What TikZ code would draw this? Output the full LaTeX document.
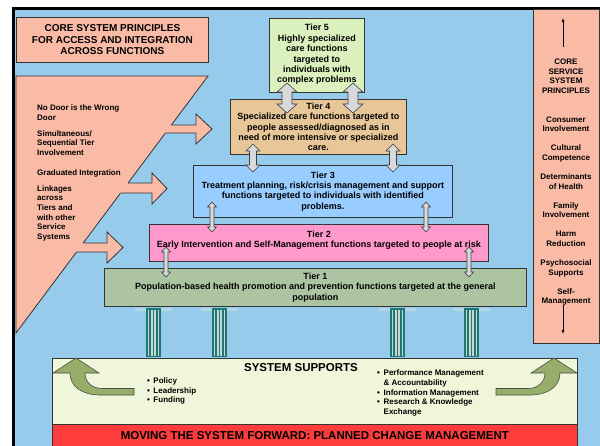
\documentclass[tikz,border=0pt]{standalone}
\usepackage{fontspec}
\setmainfont{Liberation Sans}
\usetikzlibrary{arrows.meta}

\definecolor{skyback}{RGB}{151,203,235}
\definecolor{salmon}{RGB}{249,187,166}
\definecolor{tierfive}{RGB}{218,241,190}
\definecolor{tierfour}{RGB}{231,198,152}
\definecolor{tierthree}{RGB}{153,204,255}
\definecolor{tiertwo}{RGB}{255,153,204}
\definecolor{tierone}{RGB}{173,196,163}
\definecolor{supportfill}{RGB}{240,246,217}
\definecolor{redbar}{RGB}{255,60,60}
\definecolor{leafgreen}{RGB}{151,174,106}
\definecolor{pillarteal}{RGB}{28,120,112}
\definecolor{pillarlight}{RGB}{200,216,214}
\definecolor{capitalblue}{RGB}{182,214,228}
\definecolor{linkgray}{RGB}{217,217,217}
\definecolor{edgegray}{RGB}{51,51,51}

\tikzset{
  panel/.style={draw=edgegray, line width=0.8pt},
  boxnode/.style={panel, anchor=north west, align=center, inner sep=0pt},
  tierfont/.style={font=\fontsize{9}{10.4}\selectfont\bfseries},
  smallfont/.style={font=\fontsize{8}{9.6}\selectfont\bfseries},
  bigfont/.style={font=\fontsize{11.5}{13}\selectfont\bfseries},
  linkstyle/.style={fill=linkgray, draw=black!75, line width=0.6pt},
  greenarrow/.style={fill=leafgreen, draw=black!70, line width=0.6pt},
  sidearrow/.style={fill=salmon},
  sideedge/.style={draw=edgegray, line width=0.8pt},
  listnode/.style={smallfont, anchor=north west, align=left, inner sep=0pt},
  pointer/.style={line width=0.6pt, -{Latex[length=4pt,width=3pt]}}
}

% vertical double block arrow: x, top tip, bottom tip, head half width, shaft half width, head length
\newcommand\tierlink[6]{%
  \draw[linkstyle] (#1,#2) -- (#1+#4,#2+#6) -- (#1+#5,#2+#6) -- (#1+#5,#3-#6)
    -- (#1+#4,#3-#6) -- (#1,#3) -- (#1-#4,#3-#6) -- (#1-#5,#3-#6)
    -- (#1-#5,#2+#6) -- (#1-#4,#2+#6) -- cycle;}

% block arrow leaving the slanted panel: shaft start x (top, bottom), shaft y (top, bottom),
% head back x, head y (top, bottom), tip x
\newcommand\panelarrow[8]{%
  \fill[sidearrow] (#1-3,#3) -- (#5,#3) -- (#5,#6) -- (#8,{(#6+#7)/2}) -- (#5,#7)
    -- (#5,#4) -- (#2-3,#4) -- cycle;
  \draw[sideedge] (#1,#3) -- (#5,#3) -- (#5,#6) -- (#8,{(#6+#7)/2}) -- (#5,#7)
    -- (#5,#4) -- (#2,#4);}

% fluted column standing on the supports
\newcommand\pillar[1]{%
  \fill[capitalblue] (#1-11,307.5) rectangle (#1+26,310.5);
  \fill[pillarteal] (#1,308) rectangle (#1+15,357);
  \foreach \s in {1.6,4.9,8.2,11.5}
    \fill[pillarlight] (#1+\s,309.5) rectangle (#1+\s+1.8,355.5);}

\begin{document}
\begin{tikzpicture}[x=1pt,y=-1pt]
\useasboundingbox (0,0) rectangle (600,445);
\clip (0,0) rectangle (600,445);

% frame and background
\draw[line width=3pt, fill=skyback] (13.5,8) rectangle (620,460);

% principles title
\node[boxnode, fill=salmon, minimum width=192pt, minimum height=45pt,
      font=\fontsize{10}{11.5}\selectfont\bfseries] (title) at (16,17)
  {CORE SYSTEM PRINCIPLES\\FOR ACCESS AND INTEGRATION\\ACROSS FUNCTIONS};

% slanted principles panel
\draw[panel, fill=salmon] (16,76) -- (208,76) -- (16,333) -- cycle;
\node[listnode] (p1) at (37,104.5) {No Door is the Wrong\\Door};
\node[listnode] (p2) at (37,130.3) {Simultaneous/\\Sequential Tier\\Involvement};
\node[listnode] (p3) at (37,169.3) {Graduated Integration};
\node[listnode] (p4) at (37,185.3) {Linkages\\across\\Tiers and\\with other\\Service\\Systems};

\panelarrow{171.4}{165.4}{125}{133}{196}{114}{144}{212}
\panelarrow{128.1}{120.6}{183}{193}{152}{173}{204}{167}
\panelarrow{83.2}{76.5}{243}{252}{107}{232}{263}{123}

% service principles column
\node[boxnode, fill=salmon, minimum width=66pt, minimum height=334pt] (corecol) at (533,9) {};
\node[smallfont, anchor=north, align=center, inner sep=0pt] (coretext) at (566,59)
  {CORE\\SERVICE\\SYSTEM\\PRINCIPLES\\[19pt]
   Consumer\\Involvement\\[9.5pt]
   Cultural\\Competence\\[9.5pt]
   Determinants\\of Health\\[9.5pt]
   Family\\Involvement\\[9.5pt]
   Harm\\Reduction\\[9.5pt]
   Psychosocial\\Supports\\[9.5pt]
   Self-\\Management};
\coordinate (upfrom) at (563,47);
\coordinate (upto) at (563,18);
\coordinate (downfrom) at (563,305);
\coordinate (downto) at (563,334);
\draw[pointer] (upfrom) -- (upto);
\draw[pointer] (downfrom) -- (downto);

% pillars
\pillar{146}
\pillar{212}
\pillar{390}
\pillar{464}

% system supports and planned change bar
\node[boxnode, fill=supportfill, minimum width=525pt, minimum height=66pt] (supports) at (52,358) {};
\node[boxnode, fill=redbar, minimum width=525pt, minimum height=22pt, bigfont] (forward) at (52,424)
  {MOVING THE SYSTEM FORWARD: PLANNED CHANGE MANAGEMENT};
\node[bigfont, inner sep=0pt] (suptitle) at (301,368) {SYSTEM SUPPORTS};
\node[listnode] (leftlist) at (146.8,377.5)
  {\makebox[6.5pt][l]{\textbullet}Policy\\
   \makebox[6.5pt][l]{\textbullet}Leadership\\
   \makebox[6.5pt][l]{\textbullet}Funding};
\node[listnode, font=\fontsize{8}{9.8}\selectfont\bfseries] (rightlist) at (377,369.5)
  {\makebox[6.5pt][l]{\textbullet}Performance Management\\
   \makebox[6.5pt]{}\& Accountability\\
   \makebox[6.5pt][l]{\textbullet}Information Management\\
   \makebox[6.5pt][l]{\textbullet}Research \& Knowledge\\
   \makebox[6.5pt]{}Exchange};

% curved upward arrows
\draw[greenarrow] (70,373) .. controls (70,387) and (83,395) .. (100,395) -- (134,395)
  -- (134,388.5) -- (102,388.5) .. controls (92,388.5) and (85,382) .. (85,373)
  -- (99,373) -- (76,358) -- (53,373) -- cycle;
\draw[greenarrow] (560,373) .. controls (560,387) and (547,395) .. (530,395) -- (496,395)
  -- (496,388.5) -- (528,388.5) .. controls (538,388.5) and (545,382) .. (545,373)
  -- (531,373) -- (554,358) -- (577,373) -- cycle;

% tiers
\node[boxnode, fill=tierone, minimum width=422pt, minimum height=38pt, tierfont] (t1) at (104,268)
  {Tier 1\\Population-based health promotion and prevention functions targeted at the general\\population};
\node[boxnode, fill=tiertwo, minimum width=339pt, minimum height=37pt, tierfont] (t2) at (149,224)
  {Tier 2\\Early Intervention and Self-Management functions targeted to people at risk\\[-3pt]\mbox{}};
\node[boxnode, fill=tierthree, minimum width=259pt, minimum height=52pt, tierfont] (t3) at (193,165)
  {Tier 3\\Treatment planning, risk/crisis management and support\\functions targeted to individuals with identified\\problems.};
\node[boxnode, fill=tierfour, minimum width=176pt, minimum height=55pt, tierfont] (t4) at (230,99)
  {Tier 4\\Specialized care functions targeted to\\people assessed/diagnosed as in\\need of more intensive or specialized\\care.};
\node[boxnode, fill=tierfive, minimum width=95pt, minimum height=74pt, tierfont] (t5) at (269,18)
  {Tier 5\\Highly specialized\\care functions\\targeted to\\individuals with\\complex problems\\[-7pt]\mbox{}};

% links between tiers
\tierlink{287}{83}{113}{10}{5}{9}
\tierlink{353}{83}{113}{10}{5}{9}
\tierlink{253}{144}{172}{7}{3.5}{7}
\tierlink{393}{144}{172}{7}{3.5}{7}
\tierlink{212}{202}{232}{4.5}{2}{5}
\tierlink{426}{202}{232}{4.5}{2}{5}
\tierlink{166}{247}{277}{4.5}{2}{5}
\tierlink{469}{247}{277}{4.5}{2}{5}
\end{tikzpicture}
\end{document}
